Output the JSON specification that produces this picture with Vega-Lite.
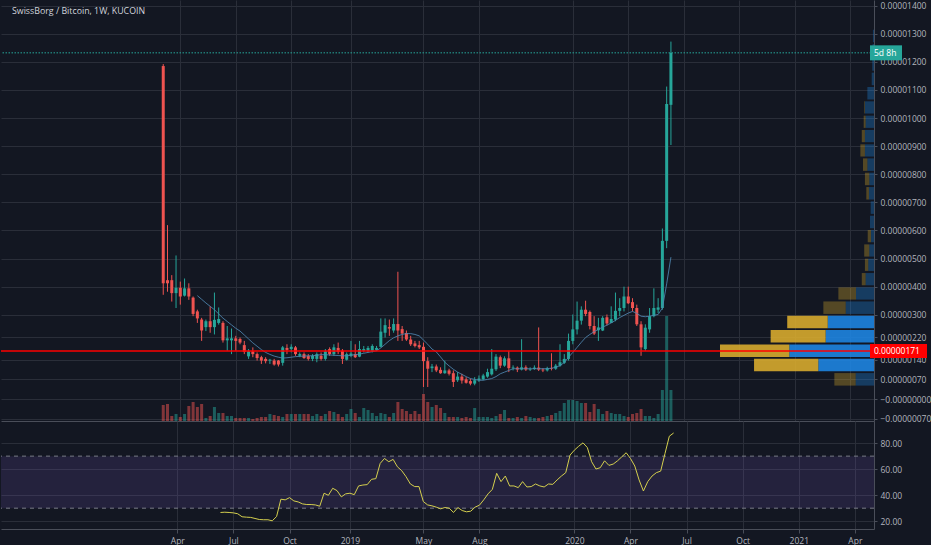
{
  "$schema": "https://vega.github.io/schema/vega-lite/v6.json",
  "background": "#131722",
  "padding": 0,
  "bounds": "flush",
  "spacing": 0,
  "config": {
    "view": {"stroke": null},
    "axis": {
      "gridColor": "#2a2e39",
      "labelColor": "#b2b5be",
      "labelFont": "Open Sans",
      "labelFontSize": 8.5,
      "domainColor": "#4a4e59",
      "tickColor": "#4a4e59",
      "tickSize": 3,
      "labelPadding": 3,
      "labelOverlap": false,
      "title": null
    },
    "text": {"font": "Open Sans"}
  },
  "datasets": {
    "bars": [
      {"d":"2018-03-05","o":1185,"h":1192,"l":371,"c":412,"v":16},
      {"d":"2018-03-12","o":423,"h":619,"l":382,"c":412,"v":17},
      {"d":"2018-03-19","o":423,"h":441,"l":347,"c":377,"v":5},
      {"d":"2018-03-26","o":377,"h":511,"l":324,"c":396,"v":7},
      {"d":"2018-04-02","o":396,"h":418,"l":336,"c":365,"v":4},
      {"d":"2018-04-09","o":368,"h":429,"l":365,"c":394,"v":7},
      {"d":"2018-04-16","o":394,"h":412,"l":353,"c":365,"v":15},
      {"d":"2018-04-23","o":361,"h":365,"l":295,"c":303,"v":19},
      {"d":"2018-04-30","o":312,"h":318,"l":271,"c":287,"v":14,"ma":368},
      {"d":"2018-05-07","o":283,"h":289,"l":207,"c":244,"v":17,"ma":355},
      {"d":"2018-05-14","o":256,"h":283,"l":242,"c":277,"v":3,"ma":342},
      {"d":"2018-05-21","o":277,"h":330,"l":236,"c":256,"v":5,"ma":330},
      {"d":"2018-05-28","o":256,"h":379,"l":230,"c":282,"v":14,"ma":318},
      {"d":"2018-06-04","o":271,"h":326,"l":265,"c":285,"v":8,"ma":303},
      {"d":"2018-06-11","o":271,"h":277,"l":201,"c":209,"v":8,"ma":288,"rsi":26.7},
      {"d":"2018-06-18","o":209,"h":260,"l":172,"c":216,"v":5,"ma":276,"rsi":26.9},
      {"d":"2018-06-25","o":209,"h":251,"l":160,"c":216,"v":5,"ma":264,"rsi":26.7},
      {"d":"2018-07-02","o":216,"h":225,"l":172,"c":207,"v":3,"ma":252,"rsi":26.4},
      {"d":"2018-07-09","o":214,"h":219,"l":195,"c":201,"v":3,"ma":242,"rsi":25.7},
      {"d":"2018-07-16","o":192,"h":207,"l":160,"c":168,"v":3,"ma":228,"rsi":23.4},
      {"d":"2018-07-23","o":152,"h":178,"l":143,"c":170,"v":3,"ma":214,"rsi":23.1},
      {"d":"2018-07-30","o":170,"h":184,"l":149,"c":160,"v":2,"ma":200,"rsi":22.9},
      {"d":"2018-08-06","o":160,"h":166,"l":137,"c":146,"v":3,"ma":188,"rsi":22.1},
      {"d":"2018-08-13","o":149,"h":154,"l":125,"c":137,"v":4,"ma":176,"rsi":21.3},
      {"d":"2018-08-20","o":143,"h":149,"l":127,"c":135,"v":4,"ma":166,"rsi":21.1},
      {"d":"2018-08-27","o":137,"h":143,"l":125,"c":140,"v":7,"ma":159,"rsi":21.1},
      {"d":"2018-09-03","o":137,"h":143,"l":119,"c":123,"v":6,"ma":153,"rsi":20.3},
      {"d":"2018-09-10","o":137,"h":139,"l":116,"c":123,"v":5,"ma":149,"rsi":23.6},
      {"d":"2018-09-17","o":129,"h":189,"l":119,"c":184,"v":4,"ma":146,"rsi":36.9},
      {"d":"2018-09-24","o":182,"h":195,"l":160,"c":175,"v":7,"ma":147,"rsi":36.4},
      {"d":"2018-10-01","o":178,"h":195,"l":166,"c":186,"v":7,"ma":149,"rsi":38.1},
      {"d":"2018-10-08","o":184,"h":189,"l":154,"c":160,"v":7,"ma":151,"rsi":35.6},
      {"d":"2018-10-15","o":154,"h":166,"l":149,"c":160,"v":7,"ma":152,"rsi":34.8},
      {"d":"2018-10-22","o":160,"h":166,"l":143,"c":146,"v":7,"ma":153,"rsi":33.3},
      {"d":"2018-10-29","o":153,"h":160,"l":137,"c":143,"v":7,"ma":154,"rsi":32.8},
      {"d":"2018-11-05","o":143,"h":160,"l":135,"c":154,"v":5,"ma":154,"rsi":32.8},
      {"d":"2018-11-12","o":143,"h":166,"l":131,"c":160,"v":7,"ma":156,"rsi":32.5},
      {"d":"2018-11-19","o":154,"h":166,"l":137,"c":143,"v":5,"ma":158,"rsi":31.5},
      {"d":"2018-11-26","o":143,"h":178,"l":137,"c":170,"v":7,"ma":158,"rsi":41.5},
      {"d":"2018-12-03","o":178,"h":184,"l":154,"c":160,"v":10,"ma":157,"rsi":39.9},
      {"d":"2018-12-10","o":160,"h":195,"l":154,"c":184,"v":9,"ma":156,"rsi":45.3},
      {"d":"2018-12-17","o":182,"h":201,"l":160,"c":168,"v":7,"ma":155,"rsi":43.5},
      {"d":"2018-12-24","o":172,"h":178,"l":125,"c":143,"v":4,"ma":154,"rsi":38.7},
      {"d":"2018-12-31","o":140,"h":166,"l":137,"c":160,"v":7,"ma":154,"rsi":41.0},
      {"d":"2019-01-07","o":154,"h":207,"l":149,"c":162,"v":12,"ma":156,"rsi":41.5},
      {"d":"2019-01-14","o":160,"h":195,"l":146,"c":149,"v":8,"ma":158,"rsi":40.4},
      {"d":"2019-01-21","o":151,"h":207,"l":149,"c":178,"v":4,"ma":160,"rsi":47.1},
      {"d":"2019-01-28","o":172,"h":189,"l":166,"c":178,"v":13,"ma":163,"rsi":47.8},
      {"d":"2019-02-04","o":172,"h":189,"l":166,"c":182,"v":11,"ma":166,"rsi":48.1},
      {"d":"2019-02-11","o":172,"h":195,"l":166,"c":189,"v":8,"ma":169,"rsi":52.2},
      {"d":"2019-02-18","o":175,"h":189,"l":172,"c":182,"v":5,"ma":172,"rsi":52.7},
      {"d":"2019-02-25","o":186,"h":287,"l":184,"c":240,"v":8,"ma":182,"rsi":64.4},
      {"d":"2019-03-04","o":236,"h":287,"l":219,"c":263,"v":7,"ma":195,"rsi":68.2},
      {"d":"2019-03-11","o":256,"h":283,"l":225,"c":251,"v":4,"ma":208,"rsi":65.7},
      {"d":"2019-03-18","o":244,"h":287,"l":236,"c":267,"v":8,"ma":218,"rsi":67.5},
      {"d":"2019-03-25","o":267,"h":453,"l":207,"c":244,"v":19,"ma":225,"rsi":61.8},
      {"d":"2019-04-01","o":249,"h":260,"l":207,"c":233,"v":12,"ma":230,"rsi":58.8},
      {"d":"2019-04-08","o":235,"h":244,"l":207,"c":212,"v":10,"ma":233,"rsi":54.2},
      {"d":"2019-04-15","o":212,"h":225,"l":189,"c":195,"v":7,"ma":233,"rsi":48.6},
      {"d":"2019-04-22","o":198,"h":207,"l":184,"c":189,"v":10,"ma":230,"rsi":46.6},
      {"d":"2019-04-29","o":192,"h":207,"l":178,"c":184,"v":7,"ma":225,"rsi":46.6},
      {"d":"2019-05-06","o":186,"h":201,"l":43,"c":135,"v":27,"ma":210,"rsi":35.1},
      {"d":"2019-05-13","o":135,"h":149,"l":43,"c":108,"v":19,"ma":195,"rsi":32.5},
      {"d":"2019-05-20","o":110,"h":125,"l":96,"c":116,"v":14,"ma":178,"rsi":31.8},
      {"d":"2019-05-27","o":116,"h":123,"l":96,"c":102,"v":16,"ma":168,"rsi":30.8},
      {"d":"2019-06-03","o":104,"h":113,"l":90,"c":92,"v":13,"ma":150,"rsi":29.5},
      {"d":"2019-06-10","o":92,"h":137,"l":90,"c":102,"v":8,"ma":131,"rsi":30.5},
      {"d":"2019-06-17","o":102,"h":108,"l":84,"c":90,"v":4,"ma":118,"rsi":30.0},
      {"d":"2019-06-24","o":92,"h":102,"l":43,"c":61,"v":4,"ma":106,"rsi":26.7},
      {"d":"2019-07-01","o":67,"h":96,"l":61,"c":80,"v":4,"ma":96,"rsi":30.5},
      {"d":"2019-07-08","o":80,"h":90,"l":55,"c":66,"v":3,"ma":88,"rsi":28.2},
      {"d":"2019-07-15","o":70,"h":78,"l":55,"c":58,"v":4,"ma":80,"rsi":27.2},
      {"d":"2019-07-22","o":64,"h":73,"l":49,"c":55,"v":3,"ma":73,"rsi":27.7},
      {"d":"2019-07-29","o":55,"h":78,"l":49,"c":67,"v":13,"ma":70,"rsi":30.8},
      {"d":"2019-08-05","o":67,"h":84,"l":61,"c":73,"v":4,"ma":67,"rsi":32.3},
      {"d":"2019-08-12","o":70,"h":90,"l":67,"c":84,"v":4,"ma":67,"rsi":36.4},
      {"d":"2019-08-19","o":80,"h":108,"l":76,"c":96,"v":4,"ma":70,"rsi":41.0},
      {"d":"2019-08-26","o":88,"h":178,"l":84,"c":108,"v":3,"ma":73,"rsi":44.5},
      {"d":"2019-09-02","o":106,"h":160,"l":100,"c":151,"v":5,"ma":80,"rsi":56.8},
      {"d":"2019-09-09","o":149,"h":155,"l":110,"c":119,"v":7,"ma":90,"rsi":50.4},
      {"d":"2019-09-16","o":119,"h":152,"l":115,"c":145,"v":11,"ma":96,"rsi":54.7},
      {"d":"2019-09-23","o":145,"h":172,"l":96,"c":110,"v":3,"ma":102,"rsi":47.1},
      {"d":"2019-09-30","o":110,"h":120,"l":102,"c":112,"v":3,"ma":108,"rsi":47.1},
      {"d":"2019-10-07","o":112,"h":116,"l":96,"c":105,"v":4,"ma":108,"rsi":45.8},
      {"d":"2019-10-14","o":105,"h":213,"l":102,"c":113,"v":3,"ma":108,"rsi":50.4},
      {"d":"2019-10-21","o":113,"h":120,"l":100,"c":105,"v":5,"ma":108,"rsi":46.3},
      {"d":"2019-10-28","o":105,"h":113,"l":100,"c":107,"v":4,"ma":108,"rsi":46.6},
      {"d":"2019-11-04","o":107,"h":120,"l":104,"c":112,"v":3,"ma":108,"rsi":48.6},
      {"d":"2019-11-11","o":112,"h":255,"l":100,"c":105,"v":3,"ma":108,"rsi":47.1},
      {"d":"2019-11-18","o":105,"h":110,"l":96,"c":102,"v":4,"ma":108,"rsi":46.3},
      {"d":"2019-11-25","o":102,"h":115,"l":98,"c":110,"v":5,"ma":108,"rsi":48.6},
      {"d":"2019-12-02","o":110,"h":163,"l":102,"c":108,"v":6,"ma":110,"rsi":48.3},
      {"d":"2019-12-09","o":108,"h":125,"l":104,"c":119,"v":8,"ma":113,"rsi":51.7},
      {"d":"2019-12-16","o":119,"h":195,"l":115,"c":131,"v":10,"ma":119,"rsi":54.7},
      {"d":"2019-12-23","o":129,"h":160,"l":125,"c":143,"v":18,"ma":130,"rsi":57.3},
      {"d":"2019-12-30","o":143,"h":233,"l":137,"c":207,"v":21,"ma":149,"rsi":70.8},
      {"d":"2020-01-06","o":207,"h":301,"l":195,"c":248,"v":21,"ma":166,"rsi":74.6},
      {"d":"2020-01-13","o":248,"h":347,"l":230,"c":279,"v":20,"ma":184,"rsi":77.6},
      {"d":"2020-01-20","o":279,"h":330,"l":265,"c":318,"v":18,"ma":202,"rsi":80.2},
      {"d":"2020-01-27","o":318,"h":350,"l":295,"c":303,"v":18,"ma":219,"rsi":76.6},
      {"d":"2020-02-03","o":310,"h":315,"l":248,"c":260,"v":9,"ma":230,"rsi":65.7},
      {"d":"2020-02-10","o":260,"h":295,"l":228,"c":233,"v":17,"ma":240,"rsi":60.1},
      {"d":"2020-02-17","o":245,"h":289,"l":207,"c":255,"v":12,"ma":248,"rsi":61.1},
      {"d":"2020-02-24","o":244,"h":295,"l":242,"c":289,"v":7,"ma":256,"rsi":66.4},
      {"d":"2020-03-02","o":291,"h":301,"l":262,"c":269,"v":10,"ma":263,"rsi":62.9},
      {"d":"2020-03-09","o":271,"h":330,"l":271,"c":285,"v":8,"ma":271,"rsi":63.9},
      {"d":"2020-03-16","o":283,"h":379,"l":277,"c":314,"v":7,"ma":280,"rsi":66.4},
      {"d":"2020-03-23","o":314,"h":359,"l":295,"c":324,"v":7,"ma":290,"rsi":69.5},
      {"d":"2020-03-30","o":324,"h":400,"l":312,"c":365,"v":5,"ma":298,"rsi":72.6},
      {"d":"2020-04-06","o":365,"h":400,"l":338,"c":341,"v":4,"ma":306,"rsi":68.2},
      {"d":"2020-04-13","o":345,"h":359,"l":312,"c":324,"v":7,"ma":312,"rsi":62.4},
      {"d":"2020-04-20","o":324,"h":336,"l":260,"c":266,"v":8,"ma":305,"rsi":51.7},
      {"d":"2020-04-27","o":266,"h":277,"l":154,"c":184,"v":12,"ma":295,"rsi":43.2},
      {"d":"2020-05-04","o":178,"h":266,"l":172,"c":254,"v":5,"ma":293,"rsi":50.4},
      {"d":"2020-05-11","o":248,"h":324,"l":236,"c":295,"v":5,"ma":295,"rsi":54.7},
      {"d":"2020-05-18","o":295,"h":394,"l":291,"c":324,"v":3,"ma":298,"rsi":57.3},
      {"d":"2020-05-25","o":318,"h":359,"l":306,"c":326,"v":7,"ma":301,"rsi":58.5},
      {"d":"2020-06-01","o":324,"h":607,"l":318,"c":563,"v":31,"ma":324,"rsi":72.0},
      {"d":"2020-06-08","o":563,"h":1112,"l":537,"c":1050,"v":105,"ma":410,"rsi":85.3},
      {"d":"2020-06-15","o":1047,"h":1272,"l":904,"c":1232,"v":31,"ma":505,"rsi":87.8}
    ],
    "vp": [
      {"lo":48,"hi":96,"up":10.5,"tot":22.7,"va":"n"},
      {"lo":99,"hi":147,"up":31.9,"tot":68.7,"va":"y"},
      {"lo":150,"hi":198,"up":48.5,"tot":88.2,"va":"y"},
      {"lo":201,"hi":249,"up":27.7,"tot":59.2,"va":"y"},
      {"lo":252,"hi":300,"up":26.5,"tot":49.7,"va":"y"},
      {"lo":303,"hi":351,"up":16.2,"tot":29.0,"va":"n"},
      {"lo":354,"hi":401,"up":10.3,"tot":20.4,"va":"n"},
      {"lo":405,"hi":452,"up":4.8,"tot":7.0,"va":"n"},
      {"lo":456,"hi":503,"up":3.3,"tot":5.2,"va":"n"},
      {"lo":507,"hi":554,"up":2.7,"tot":5.6,"va":"n"},
      {"lo":558,"hi":605,"up":1.7,"tot":3.6,"va":"n"},
      {"lo":608,"hi":656,"up":2.3,"tot":2.3,"va":"n"},
      {"lo":659,"hi":707,"up":1.9,"tot":1.9,"va":"n"},
      {"lo":710,"hi":758,"up":2.9,"tot":4.4,"va":"n"},
      {"lo":761,"hi":809,"up":2.7,"tot":5.2,"va":"n"},
      {"lo":812,"hi":860,"up":3.8,"tot":6.3,"va":"n"},
      {"lo":863,"hi":910,"up":5.2,"tot":7.8,"va":"n"},
      {"lo":914,"hi":961,"up":5.2,"tot":7.0,"va":"n"},
      {"lo":965,"hi":1012,"up":4.8,"tot":5.9,"va":"n"},
      {"lo":1016,"hi":1063,"up":5.2,"tot":5.6,"va":"n"},
      {"lo":1066,"hi":1114,"up":3.8,"tot":3.8,"va":"n"},
      {"lo":1117,"hi":1165,"up":1.3,"tot":1.3,"va":"n"},
      {"lo":1168,"hi":1216,"up":1.0,"tot":1.0,"va":"n"},
      {"lo":1219,"hi":1267,"up":0.8,"tot":0.8,"va":"n"},
      {"lo":1270,"hi":1318,"up":0.6,"tot":0.6,"va":"n"}
    ],
    "tags": [
      {"e":"2021-05-06","p":171,"t":"0.00000171"},
      {"e":"2021-05-06","p":1232,"t":"5d 8h"}
    ]
  },
  "resolve": {"scale": {"x": "independent", "y": "independent"}},
  "vconcat": [
    {
      "width": 873,
      "height": 421,
      "resolve": {"scale": {"x": "independent", "y": "independent"}},
      "layer": [
        {
          "data": {"name": "bars"},
          "mark": {"type": "bar", "size": 3, "opacity": 0.5},
          "encoding": {
            "x": {"field": "d", "type": "temporal", "scale": {"domain": ["2017-06-20", "2021-05-06"], "nice": false}, "axis": null},
            "y": {"field": "v", "type": "quantitative", "scale": {"domain": [0, 421], "nice": false}, "axis": null},
            "color": {"condition": {"test": "datum.c >= datum.o", "value": "#26a69a"}, "value": "#ef5350"}
          }
        },
        {
          "data": {"name": "vp"},
          "layer": [
            {
              "mark": {"type": "bar", "color": "#1e88e5", "binSpacing": 1},
              "encoding": {
                "y": {"field": "lo", "type": "quantitative", "bin": "binned", "scale": {"domain": [-78, 1420], "nice": false, "zero": false}, "axis": null},
                "y2": {"field": "hi"},
                "x": {"field": "up", "type": "quantitative", "scale": {"domain": [0, 500], "reverse": true, "nice": false}, "axis": null},
                "opacity": {"field": "va", "type": "nominal", "scale": {"domain": ["y", "n"], "range": [0.88, 0.33]}, "legend": null}
              }
            },
            {
              "mark": {"type": "bar", "color": "#dcae2e", "binSpacing": 1},
              "encoding": {
                "y": {"field": "lo", "type": "quantitative", "bin": "binned"},
                "y2": {"field": "hi"},
                "x": {"field": "up", "type": "quantitative"},
                "x2": {"field": "tot"},
                "opacity": {"field": "va", "type": "nominal", "legend": null}
              }
            }
          ]
        },
        {
          "layer": [
            {
              "data": {"name": "bars"},
              "mark": {"type": "rule", "strokeWidth": 1},
              "encoding": {
                "x": {
                  "field": "d", "type": "temporal",
                  "scale": {"domain": ["2017-06-20", "2021-05-06"], "nice": false},
                  "axis": {
                    "orient": "bottom", "labels": false, "ticks": false, "domain": true, "grid": true, "tickCount": 100,
                    "values": ["2018-04-02", "2018-07-02", "2018-10-01", "2019-01-07", "2019-05-06", "2019-08-05", "2020-01-06", "2020-04-06", "2020-07-06", "2020-10-05", "2021-01-04", "2021-04-05"]
                  }
                },
                "y": {
                  "field": "l", "type": "quantitative",
                  "scale": {"domain": [-78, 1420], "nice": false, "zero": false},
                  "axis": {
                    "orient": "right", "grid": true, "tickCount": 100,
                    "values": [1400, 1300, 1200, 1100, 1000, 900, 800, 700, 600, 500, 400, 300, 220, 140, 70, 0, -70],
                    "labelExpr": "datum.value <= 0 ? '−' + format(abs(datum.value) / 1e8, '.8f') : format(datum.value / 1e8, '.8f')"
                  }
                },
                "y2": {"field": "h"},
                "color": {"condition": {"test": "datum.c >= datum.o", "value": "#26a69a"}, "value": "#ef5350"}
              }
            },
            {
              "data": {"name": "bars"},
              "mark": {"type": "bar", "size": 3},
              "encoding": {
                "x": {"field": "d", "type": "temporal"},
                "y": {"field": "o", "type": "quantitative"},
                "y2": {"field": "c"},
                "color": {"condition": {"test": "datum.c >= datum.o", "value": "#26a69a"}, "value": "#ef5350"}
              }
            },
            {
              "data": {"name": "bars"},
              "mark": {"type": "line", "color": "#4f86b0", "strokeWidth": 1, "opacity": 0.85},
              "encoding": {
                "x": {"field": "d", "type": "temporal"},
                "y": {"field": "ma", "type": "quantitative"}
              }
            },
            {
              "data": {"values": [{"p": 171}]},
              "mark": {"type": "rule", "color": "#ff0000", "strokeWidth": 1.5},
              "encoding": {"y": {"field": "p", "type": "quantitative"}}
            },
            {
              "data": {"values": [{"p": 1232}]},
              "mark": {"type": "rule", "color": "#26a69a", "strokeWidth": 1, "strokeDash": [1.5, 1.5]},
              "encoding": {"y": {"field": "p", "type": "quantitative"}}
            },
            {
              "data": {"values": [{"s": "2017-06-20", "p": 1381, "t": "SwissBorg / Bitcoin, 1W, KUCOIN"}]},
              "mark": {"type": "text", "align": "left", "baseline": "middle", "dx": 6, "color": "#d1d4dc", "fontSize": 8.8},
              "encoding": {
                "x": {"field": "s", "type": "temporal"},
                "y": {"field": "p", "type": "quantitative"},
                "text": {"field": "t"}
              }
            },
            {
              "data": {"name": "tags"},
              "transform": [{"filter": "datum.p < 500"}],
              "mark": {"type": "rect", "color": "#ff0000", "xOffset": 1, "x2Offset": 58, "yOffset": -7, "y2Offset": 7},
              "encoding": {
                "x": {"field": "e", "type": "temporal"},
                "x2": {"field": "e"},
                "y": {"field": "p", "type": "quantitative"},
                "y2": {"field": "p"}
              }
            },
            {
              "data": {"name": "tags"},
              "transform": [{"filter": "datum.p > 500"}],
              "mark": {"type": "rect", "color": "#26a69a", "xOffset": 1, "x2Offset": 33, "yOffset": -7.5, "y2Offset": 7.5},
              "encoding": {
                "x": {"field": "e", "type": "temporal"},
                "x2": {"field": "e"},
                "y": {"field": "p", "type": "quantitative"},
                "y2": {"field": "p"}
              }
            },
            {
              "data": {"name": "tags"},
              "mark": {"type": "text", "align": "left", "baseline": "middle", "dx": 5, "color": "#ffffff", "fontSize": 8.5},
              "encoding": {
                "x": {"field": "e", "type": "temporal"},
                "y": {"field": "p", "type": "quantitative"},
                "text": {"field": "t"}
              }
            }
          ]
        }
      ]
    },
    {
      "width": 873,
      "height": 108,
      "layer": [
        {
          "data": {"values": [{"s": "2017-06-20", "e": "2021-05-06", "a": 70, "b": 30}]},
          "mark": {"type": "rect", "color": "#7e57c2", "opacity": 0.17},
          "encoding": {
            "x": {"field": "s", "type": "temporal"},
            "x2": {"field": "e"},
            "y": {"field": "a", "type": "quantitative"},
            "y2": {"field": "b"}
          }
        },
        {
          "data": {"values": [{"r": 70}, {"r": 30}]},
          "mark": {"type": "rule", "color": "#787b86", "strokeWidth": 1, "strokeDash": [4, 4]},
          "encoding": {"y": {"field": "r", "type": "quantitative"}}
        },
        {
          "data": {"name": "bars"},
          "mark": {"type": "line", "color": "#d4cf4e", "strokeWidth": 1},
          "encoding": {
            "x": {
              "field": "d", "type": "temporal",
              "scale": {"domain": ["2017-06-20", "2021-05-06"], "nice": false},
              "axis": {
                "orient": "bottom", "grid": true, "tickSize": 4, "tickCount": 100,
                "values": ["2018-04-02", "2018-07-02", "2018-10-01", "2019-01-07", "2019-05-06", "2019-08-05", "2020-01-06", "2020-04-06", "2020-07-06", "2020-10-05", "2021-01-04", "2021-04-05"],
                "labelExpr": "utcmonth(datum.value) == 0 ? utcFormat(datum.value, '%Y') : utcFormat(datum.value, '%b')"
              }
            },
            "y": {
              "field": "rsi", "type": "quantitative",
              "scale": {"domain": [14, 97], "nice": false, "zero": false},
              "axis": {"orient": "right", "grid": true, "tickCount": 100, "values": [20, 40, 60, 80], "format": ".2f"}
            }
          }
        }
      ]
    }
  ]
}
